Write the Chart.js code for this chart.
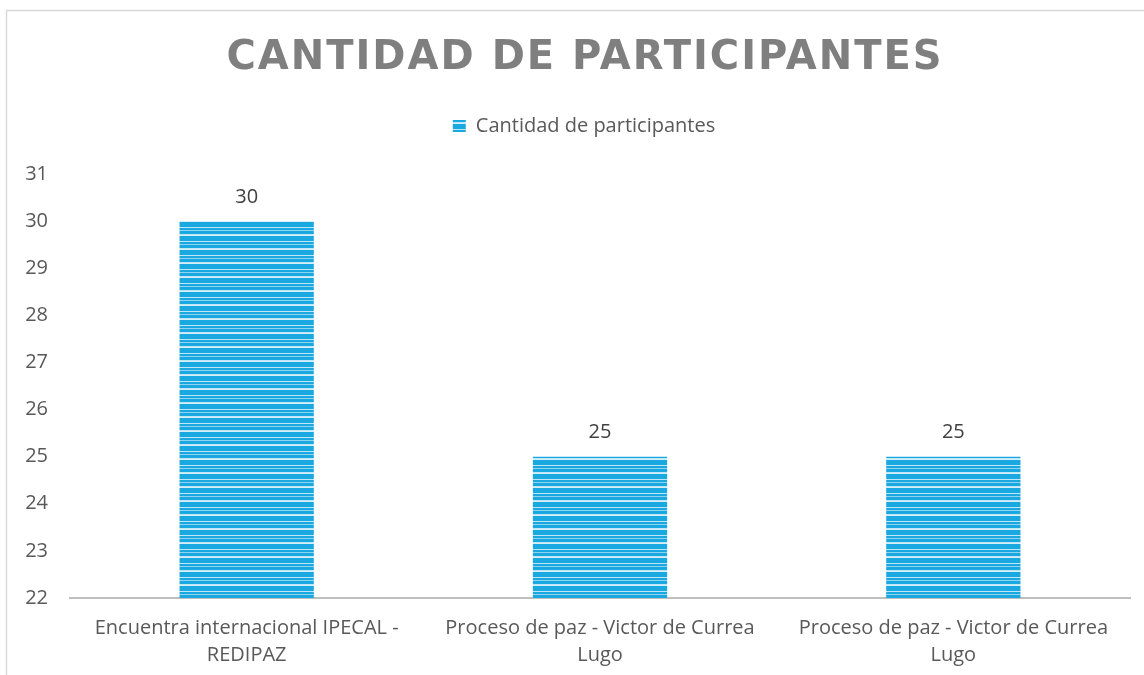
<!DOCTYPE html>
<html>
<head>
<meta charset="utf-8">
<script src="https://cdn.jsdelivr.net/npm/chart.js@4/dist/chart.umd.min.js"></script>
<style>
  html, body { margin: 0; padding: 0; background: #fff; }
  #wrap { position: relative; width: 1144px; height: 675px; }
</style>
</head>
<body>
<div id="wrap"><canvas id="chart1"></canvas></div>
<script>
const chartTitle = 'CANTIDAD DE PARTICIPANTES';
const seriesName = 'Cantidad de participantes';
const categories = [
  ['Encuentra internacional IPECAL -', 'REDIPAZ'],
  ['Proceso de paz - Victor de Currea', 'Lugo'],
  ['Proceso de paz - Victor de Currea', 'Lugo']
];
const participantes = [30, 25, 25];
const yMin = 22;
const yMax = 31;

const bodyFont = 'Open Sans';

// horizontal striped fill like the original bar texture
function makeStripes() {
  const c = document.createElement('canvas');
  c.width = 4;
  c.height = 14;
  const g = c.getContext('2d');
  const rows = ['#1aa8e0', '#1aa8e0', '#1aa8e0', '#bfe6f7', '#1aa8e0', '#1aa8e0', '#8fd3f0',
                '#1aa8e0', '#1aa8e0', '#1aa8e0', '#bfe6f7', '#d4eefa', '#1aa8e0', '#1aa8e0'];
  rows.forEach(function(col, i) {
    g.fillStyle = col;
    g.fillRect(0, i, 4, 1);
  });
  return g.createPattern(c, 'repeat');
}

const ctx = document.getElementById('chart1').getContext('2d');
const stripes = makeStripes();

const framePlugin = {
  id: 'frame',
  beforeInit(chart) {
    // leave a gap between the legend and the plot like the original
    const fit = chart.legend.fit;
    chart.legend.fit = function() {
      fit.bind(chart.legend)();
      this.height += 28;
    };
  },
  afterLayout(chart) {
    // legend is centred on the whole frame, not just the canvas
    chart.legend.left += 19;
    chart.legend.right += 19;
  },
  beforeDraw(chart) {
    const c = chart.ctx;
    c.save();
    c.strokeStyle = '#d9d9d9';
    c.lineWidth = 1.5;
    c.strokeRect(6.5, 10.5, 1150, 700);
    c.restore();
  },
  afterDraw(chart) {
    const c = chart.ctx;
    c.save();
    c.font = 'bold 40px "DejaVu Sans"';
    c.fillStyle = '#7f7f7f';
    c.letterSpacing = '2px';
    c.textAlign = 'center';
    c.textBaseline = 'middle';
    c.fillText(chartTitle, 585, 59);
    c.restore();
  }
};

const valueLabels = {
  id: 'valueLabels',
  afterDatasetsDraw(chart) {
    const c = chart.ctx;
    const meta = chart.getDatasetMeta(0);
    c.save();
    c.font = '20px "' + bodyFont + '"';
    c.fillStyle = '#404040';
    c.textAlign = 'center';
    c.textBaseline = 'middle';
    meta.data.forEach(function(bar, i) {
      c.fillText(String(participantes[i]), bar.x, bar.y - 24);
    });
    c.restore();
  }
};

new Chart(ctx, {
  type: 'bar',
  data: {
    labels: categories,
    datasets: [{
      label: seriesName,
      data: participantes,
      backgroundColor: stripes,
      borderWidth: 0,
      categoryPercentage: 1,
      barPercentage: 0.38
    }]
  },
  options: {
    responsive: true,
    maintainAspectRatio: false,
    animation: false,
    layout: { padding: { top: 106, left: 0, right: 14, bottom: 0 } },
    plugins: {
      title: { display: false },
      tooltip: { enabled: false },
      legend: {
        position: 'top',
        labels: {
          color: '#595959',
          font: { family: bodyFont, size: 20 },
          boxWidth: 13,
          boxHeight: 12,
          padding: 10
        }
      }
    },
    scales: {
      x: {
        grid: { display: false, drawTicks: false },
        border: { display: true, color: '#bfbfbf', width: 2 },
        ticks: {
          color: '#595959',
          font: { family: bodyFont, size: 20, lineHeight: 1.35 },
          padding: 17,
          maxRotation: 0
        },
        afterFit(scale) { scale.height = 77; }
      },
      y: {
        min: yMin,
        max: yMax,
        grid: { display: false, drawTicks: false },
        border: { display: false },
        ticks: {
          stepSize: 1,
          color: '#595959',
          font: { family: bodyFont, size: 20 },
          padding: 22
        },
        afterFit(scale) { scale.width = 70; }
      }
    }
  },
  plugins: [framePlugin, valueLabels]
});
</script>
</body>
</html>
